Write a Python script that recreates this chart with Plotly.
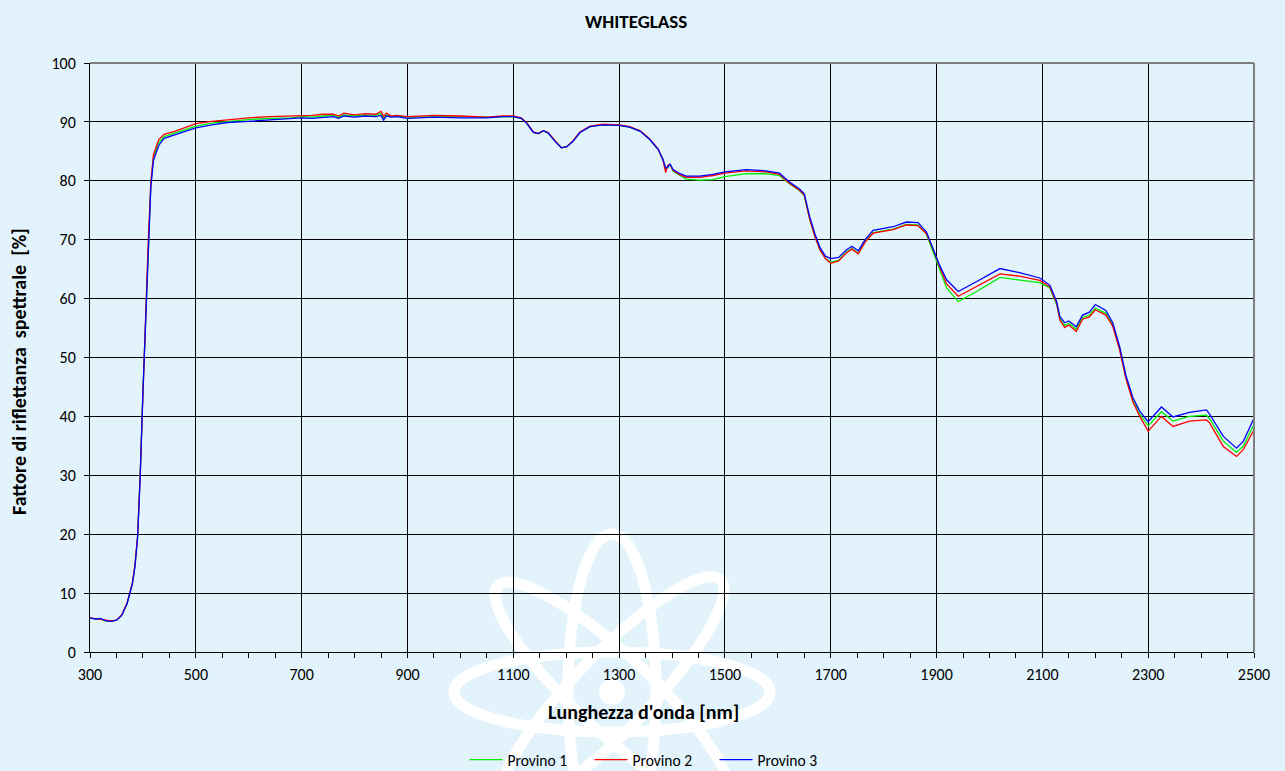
import numpy as np
import plotly.graph_objects as go

# ---------------- data ----------------
wavelength = [300, 310, 320, 330, 340, 350, 360, 370, 380, 385, 390, 395, 400, 405, 410, 415, 420, 430, 440, 460,
              480, 500, 530, 560, 600, 640, 680, 700, 720, 740, 760, 770, 780, 800, 820, 840, 850, 855, 860, 870,
              880, 900, 950, 1000, 1050, 1080, 1100, 1115, 1125, 1138, 1147, 1157, 1166, 1179, 1191, 1201, 1213, 1226, 1245, 1270,
              1300, 1320, 1340, 1358, 1374, 1383, 1388, 1392, 1396, 1402, 1415, 1427, 1452, 1477, 1500, 1540, 1578, 1603, 1622, 1641,
              1650, 1660, 1670, 1680, 1690, 1700, 1715, 1730, 1740, 1752, 1765, 1780, 1818, 1843, 1865, 1881, 1894, 1906, 1919, 1941,
              1976, 2020, 2057, 2095, 2114, 2127, 2133, 2142, 2150, 2164, 2176, 2189, 2200, 2220, 2233, 2246, 2258, 2271, 2284, 2300,
              2325, 2347, 2378, 2410, 2416, 2442, 2467, 2480, 2500]

provino_3 = [5.8, 5.6, 5.7, 5.3, 5.2, 5.4, 6.2, 8.2, 11.5, 14.5, 19.5, 30.0, 44.0, 56.0, 69.0, 79.0, 83.5, 86.0, 87.2, 87.8,
             88.5, 89.0, 89.5, 89.9, 90.1, 90.3, 90.5, 90.7, 90.6, 90.8, 90.9, 90.6, 91.0, 90.8, 91.0, 90.9, 91.1, 90.3, 91.0, 90.8,
             90.9, 90.6, 90.8, 90.7, 90.7, 90.9, 90.9, 90.6, 89.8, 88.2, 88.0, 88.5, 88.1, 86.7, 85.6, 85.8, 86.7, 88.2, 89.2, 89.5,
             89.4, 89.1, 88.4, 87.0, 85.3, 83.6, 82.2, 82.3, 82.9, 81.9, 81.2, 80.8, 80.8, 81.1, 81.5, 81.9, 81.7, 81.3, 79.8, 78.6,
             77.8, 74.0, 71.0, 68.6, 67.2, 66.8, 67.0, 68.3, 68.9, 68.1, 70.0, 71.6, 72.2, 73.0, 72.9, 71.3, 68.5, 65.6, 63.2, 61.2,
             62.9, 65.1, 64.4, 63.5, 62.3, 59.5, 57.0, 55.9, 56.2, 55.2, 57.2, 57.7, 59.0, 58.0, 55.9, 51.9, 46.9, 43.2, 40.9, 39.1,
             41.6, 39.9, 40.7, 41.1, 40.4, 36.6, 34.6, 35.8, 39.7]

provino_2 = [5.8, 5.7, 5.6, 5.4, 5.3, 5.4, 6.3, 8.3, 11.7, 14.8, 19.8, 30.5, 44.5, 56.5, 69.5, 79.8, 84.5, 87.0, 87.9, 88.4,
             89.1, 89.7, 90.1, 90.4, 90.7, 90.9, 91.0, 91.1, 91.1, 91.3, 91.3, 91.0, 91.5, 91.2, 91.4, 91.3, 91.8, 90.9, 91.5, 91.0,
             91.1, 90.9, 91.1, 91.0, 90.8, 91.0, 91.0, 90.7, 89.9, 88.3, 88.0, 88.5, 88.2, 86.8, 85.6, 85.8, 86.8, 88.3, 89.3, 89.6,
             89.5, 89.2, 88.5, 87.1, 85.4, 83.5, 81.4, 82.6, 82.8, 81.8, 81.0, 80.6, 80.6, 80.9, 81.3, 81.7, 81.5, 81.1, 79.6, 78.4,
             77.6, 73.6, 70.6, 68.2, 66.8, 66.0, 66.4, 67.8, 68.4, 67.6, 69.6, 71.1, 71.7, 72.5, 72.4, 71.0, 68.3, 65.4, 62.5, 60.4,
             62.1, 64.2, 63.8, 63.1, 62.0, 59.2, 56.4, 55.1, 55.5, 54.4, 56.5, 56.9, 58.1, 57.2, 55.3, 51.3, 46.4, 42.5, 40.0, 37.5,
             40.0, 38.3, 39.2, 39.4, 38.9, 34.9, 33.2, 34.4, 37.7]

provino_1 = [5.8, 5.6, 5.6, 5.3, 5.2, 5.4, 6.2, 8.2, 11.6, 14.6, 19.6, 30.2, 44.2, 56.2, 69.2, 79.4, 84.0, 86.5, 87.5, 88.1,
             88.8, 89.3, 89.8, 90.1, 90.4, 90.6, 90.7, 90.9, 90.8, 91.0, 91.1, 90.8, 91.2, 91.0, 91.2, 91.1, 91.4, 90.6, 91.2, 90.9,
             91.0, 90.8, 90.9, 90.9, 90.8, 90.9, 90.9, 90.6, 89.8, 88.2, 88.0, 88.5, 88.1, 86.7, 85.6, 85.8, 86.7, 88.2, 89.2, 89.5,
             89.4, 89.1, 88.4, 87.0, 85.3, 83.6, 82.0, 82.3, 82.8, 81.6, 80.9, 80.3, 80.1, 80.2, 80.7, 81.2, 81.2, 80.9, 79.5, 78.3,
             77.5, 73.6, 70.6, 68.2, 66.8, 66.2, 66.5, 67.9, 68.5, 67.7, 69.7, 71.2, 71.8, 72.6, 72.5, 70.9, 67.8, 64.8, 61.8, 59.5,
             61.2, 63.6, 63.2, 62.7, 61.8, 59.0, 56.6, 55.4, 55.8, 54.8, 56.8, 57.2, 58.4, 57.5, 55.5, 51.5, 46.6, 42.8, 40.4, 38.4,
             40.8, 39.2, 40.0, 40.2, 39.6, 35.8, 33.9, 35.0, 38.6]

x_tick_values = [300, 500, 700, 900, 1100, 1300, 1500, 1700, 1900, 2100, 2300, 2500]
y_tick_values = [0, 10, 20, 30, 40, 50, 60, 70, 80, 90, 100]

series_names = ["Provino 1", "Provino 2", "Provino 3"]
series_colors = ["#00EE00", "#FF0000", "#0000FF"]

assert len(wavelength) == len(provino_1) == len(provino_2) == len(provino_3)

# ---------------- layout geometry ----------------
W, H = 1285, 771
ML, MR, MT, MB = 90, 31, 63, 119
PW, PH = W - ML - MR, H - MT - MB
BG = "#E2F3FB"
FONT = "Carlito, Calibri, Lato, sans-serif"


def px2paper(px, py):
    return (px - ML) / PW, (H - MB - py) / PH


def ellipse_path(cx, cy, a, b, ang_deg, n=120):
    t = np.linspace(0, 2 * np.pi, n)
    ang = np.deg2rad(ang_deg)
    xs = cx + a * np.cos(t) * np.cos(ang) - b * np.sin(t) * np.sin(ang)
    ys = cy + a * np.cos(t) * np.sin(ang) + b * np.sin(t) * np.cos(ang)
    pts = [px2paper(x, y) for x, y in zip(xs, ys)]
    return "M " + " L ".join(f"{p[0]:.5f},{p[1]:.5f}" for p in pts) + " Z"


fig = go.Figure()
for name, vals, col in zip(series_names, [provino_1, provino_2, provino_3], series_colors):
    fig.add_trace(go.Scatter(x=wavelength, y=vals, mode="lines", name=name,
                             line=dict(color=col, width=1.3)))

# watermark (atom logo)
shapes = []
cx, cy = 612, 692
for a, b, ang in [(158, 40, 0), (158, 44, 90), (156, 38, 43), (156, 38, -46)]:
    shapes.append(dict(type="path", xref="paper", yref="paper", path=ellipse_path(cx, cy, a, b, ang),
                       line=dict(color="white", width=11), fillcolor="rgba(0,0,0,0)", layer="below"))
x0, y0 = px2paper(cx - 13, cy - 13)
x1, y1 = px2paper(cx + 13, cy + 13)
shapes.append(dict(type="circle", xref="paper", yref="paper", x0=x0, y0=y0, x1=x1, y1=y1,
                   fillcolor="white", line=dict(width=0), layer="below"))
# grey frame on top/right
shapes.append(dict(type="line", xref="paper", yref="paper", x0=1, x1=1, y0=0, y1=1,
                   line=dict(color="#7F7F7F", width=2)))
shapes.append(dict(type="line", xref="paper", yref="paper", x0=0, x1=1, y0=1, y1=1,
                   line=dict(color="#7F7F7F", width=2)))

annotations = [
    dict(text="<b>WHITEGLASS</b>", xref="paper", yref="paper", x=px2paper(636, 0)[0], y=px2paper(0, 22)[1],
         xanchor="center", yanchor="middle", showarrow=False, font=dict(size=19, color="black", family=FONT)),
    dict(text="<b>Lunghezza d'onda [nm]</b>", xref="paper", yref="paper", x=px2paper(643, 0)[0],
         y=px2paper(0, 712)[1], xanchor="center", yanchor="middle", showarrow=False,
         font=dict(size=20, color="black", family=FONT)),
    dict(text="<b>Fattore di riflettanza  spettrale  [%]</b>", xref="paper", yref="paper",
         x=px2paper(19, 0)[0], y=px2paper(0, 372)[1], xanchor="center", yanchor="middle",
         textangle=-90, showarrow=False, font=dict(size=20, color="black", family=FONT)),
]

fig.update_layout(
    width=W, height=H,
    margin=dict(l=ML, r=MR, t=MT, b=MB, autoexpand=False),
    paper_bgcolor=BG, plot_bgcolor="rgba(0,0,0,0)",
    font=dict(family=FONT, size=16, color="black"),
    shapes=shapes, annotations=annotations,
    showlegend=True,
    legend=dict(orientation="h", x=px2paper(652, 0)[0], xanchor="center", y=px2paper(0, 760)[1],
                yanchor="middle", font=dict(size=15.5, family=FONT), bgcolor="rgba(0,0,0,0)",
                itemwidth=33, tracegroupgap=0, entrywidth=77, entrywidthmode="pixels"),
)
fig.update_xaxes(range=[300, 2500], tickvals=x_tick_values, showgrid=True, gridcolor="black", gridwidth=1,
                 showline=True, linecolor="black", linewidth=1, ticks="outside", ticklen=5, tickcolor="black",
                 zeroline=False, tickfont=dict(size=16, family=FONT), ticklabelstandoff=3,
                 minor=dict(dtick=50, ticks="outside", ticklen=5, tickcolor="black", showgrid=False))
fig.update_yaxes(range=[0, 100], tickvals=y_tick_values, showgrid=True, gridcolor="black", gridwidth=1,
                 showline=True, linecolor="black", linewidth=1, ticks="outside", ticklen=5, tickcolor="black",
                 zeroline=False, tickfont=dict(size=16, family=FONT), ticklabelstandoff=5)

fig.write_html("out.html", config={"displayModeBar": False},
               post_script="document.body.style.margin='0';document.body.style.padding='0';"
                           "document.body.style.background='" + BG + "';")
